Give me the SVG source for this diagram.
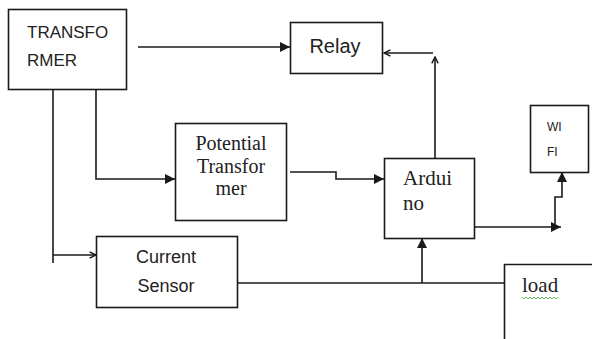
<svg xmlns="http://www.w3.org/2000/svg" width="592" height="339" viewBox="0 0 592 339">
<style>
.box{fill:#fff;stroke:#1a1a1a;stroke-width:1.6}
.ln{fill:none;stroke:#1a1a1a;stroke-width:1.6}
.sans{font-family:"Liberation Sans",Arial,sans-serif;fill:#222}
.serif{font-family:"Liberation Serif","Times New Roman",serif;fill:#222}
</style>
<defs>
<marker id="fa" viewBox="0 0 10 10" refX="10" refY="5" markerWidth="10" markerHeight="10" markerUnits="userSpaceOnUse" orient="auto">
<path d="M0,0 L10,5 L0,10 Z" fill="#1a1a1a"/>
</marker>
<marker id="oa" viewBox="0 0 10 10" refX="9" refY="5" markerWidth="8" markerHeight="8" markerUnits="userSpaceOnUse" orient="auto">
<path d="M1,1 L9,5 L1,9" fill="none" stroke="#1a1a1a" stroke-width="1.8"/>
</marker>
</defs>
<rect width="592" height="339" fill="#fff"/>
<g id="connectors">
<path class="ln" d="M138,47 L290,47" marker-end="url(#fa)"/>
<path class="ln" d="M433,53 L384,53" marker-end="url(#oa)"/>
<path class="ln" d="M435,158 L435,57" marker-end="url(#oa)"/>
<path class="ln" d="M96,89 L96,179 L175,179" marker-end="url(#fa)"/>
<path class="ln" d="M53,89 L53,263"/>
<path class="ln" d="M53,255 L96,255" marker-end="url(#oa)"/>
<path class="ln" d="M290,172 L336,172 L336,179 L384,179" marker-end="url(#fa)"/>
<path class="ln" d="M474,227 L561,227" marker-end="url(#fa)"/>
<path class="ln" d="M555,227 L555,197 L562,197 L562,172" marker-end="url(#fa)"/>
<path class="ln" d="M237,283 L504,283"/>
<path class="ln" d="M422,283 L422,238" marker-end="url(#fa)"/>
</g>
<g id="transformer">
<rect class="box" x="8.5" y="9.5" width="118" height="80"/>
<text class="sans" x="27" y="38" font-size="17">TRANSFO</text>
<text class="sans" x="27" y="66" font-size="17">RMER</text>
</g>
<g id="relay">
<rect class="box" x="290.5" y="22.5" width="92" height="51"/>
<text class="sans" x="335" y="53" font-size="20" text-anchor="middle">Relay</text>
</g>
<g id="potential-transformer">
<rect class="box" x="175.5" y="123.5" width="111" height="97"/>
<text class="serif" x="231" y="150" font-size="20" text-anchor="middle">Potential</text>
<text class="serif" x="231" y="173" font-size="20" text-anchor="middle">Transfor</text>
<text class="serif" x="231" y="195" font-size="20" text-anchor="middle">mer</text>
</g>
<g id="arduino">
<rect class="box" x="384.5" y="158.5" width="90" height="80"/>
<text class="serif" x="403" y="185" font-size="21">Ardui</text>
<text class="serif" x="403" y="210" font-size="21">no</text>
</g>
<g id="wifi">
<rect class="box" x="530.5" y="105.5" width="58" height="67"/>
<text class="sans" x="547" y="131" font-size="12" fill="#2b3a6b">WI</text>
<text class="sans" x="547" y="156" font-size="12" fill="#2b3a6b">FI</text>
</g>
<g id="current-sensor">
<rect class="box" x="96.5" y="236.5" width="141" height="71"/>
<text class="sans" x="166" y="263" font-size="18" text-anchor="middle">Current</text>
<text class="sans" x="166" y="292" font-size="18" text-anchor="middle">Sensor</text>
</g>
<g id="load">
<path class="ln" d="M504.5,339 L504.5,264.5 L600,264.5"/>
<text class="serif" x="522" y="292" font-size="21">load</text>
<path d="M522,297 l2,2 l2,-2 l2,2 l2,-2 l2,2 l2,-2 l2,2 l2,-2 l2,2 l2,-2 l2,2 l2,-2 l2,2 l2,-2 l2,2 l2,-2 l2,2 l2,-2" fill="none" stroke="#3a3" stroke-width="0.8"/>
</g>
</svg>
